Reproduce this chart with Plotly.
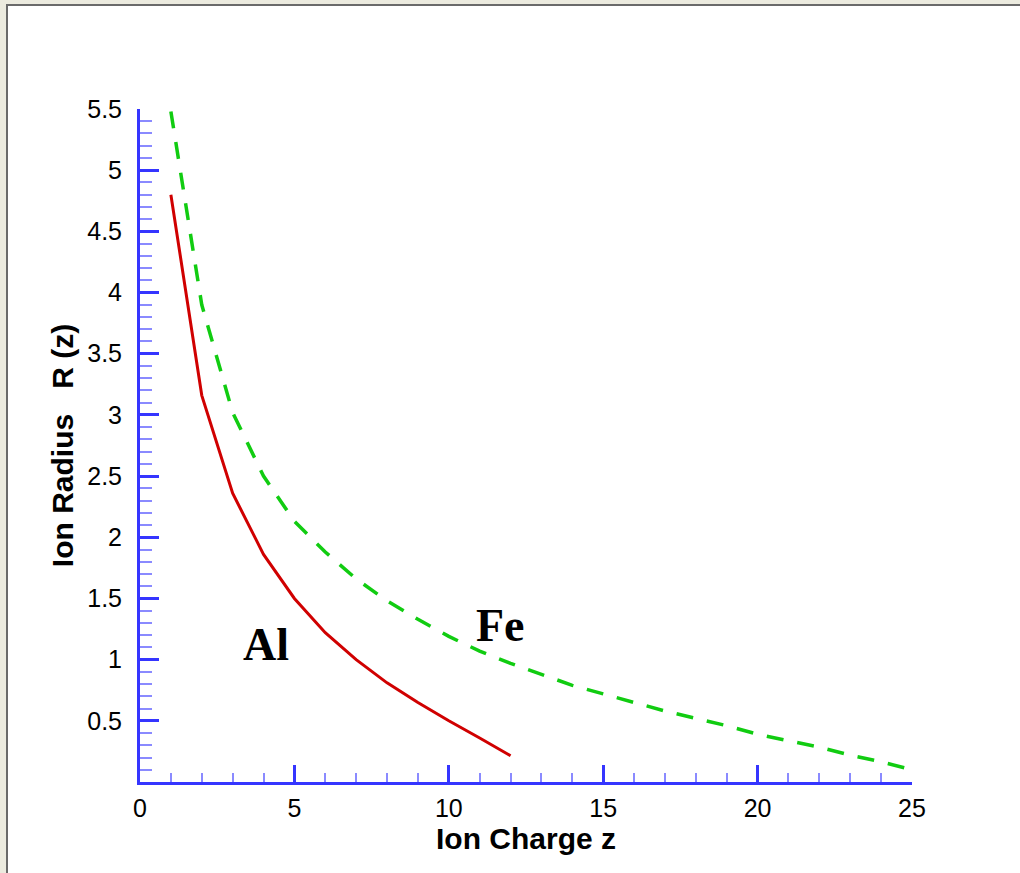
import plotly.graph_objects as go

# Data
al_z = [1, 2, 3, 4, 5, 6, 7, 8, 9, 10, 11, 12]
al_r = [4.80, 3.16, 2.36, 1.86, 1.50, 1.22, 1.00, 0.81, 0.65, 0.50, 0.36, 0.215]

fe_z = list(range(1, 26))
fe_r = [5.48, 3.90, 3.02, 2.50, 2.13, 1.88, 1.66, 1.48, 1.33, 1.19, 1.07, 0.97,
        0.88, 0.79, 0.72, 0.65, 0.58, 0.52, 0.46, 0.39, 0.34, 0.285, 0.22, 0.165, 0.10]

x_ticks = [0, 5, 10, 15, 20, 25]
y_ticks = [0.5, 1, 1.5, 2, 2.5, 3, 3.5, 4, 4.5, 5, 5.5]
y_tick_text = ["0.5", "1", "1.5", "2", "2.5", "3", "3.5", "4", "4.5", "5", "5.5"]

labels = [("Al", 4.08, 1.12), ("Fe", 11.66, 1.28)]

fig = go.Figure()
fig.add_trace(go.Scatter(x=al_z, y=al_r, mode="lines",
                         line=dict(color="#d00000", width=3), showlegend=False))
fig.add_trace(go.Scatter(x=fe_z, y=fe_r, mode="lines",
                         line=dict(color="#11cc11", width=3.5, dash="17px,14px"),
                         showlegend=False))

for t, x, y in labels:
    fig.add_annotation(x=x, y=y, text=f"<b>{t}</b>", showarrow=False,
                       font=dict(family="Liberation Serif, Times New Roman, serif",
                                 size=46, color="black"))

L, R, T, B = 140, 108, 109, 91
W, H = 1020, 873
pw, ph = W - L - R, H - T - B

def px_x(px):
    return (px - L) / pw

def px_y(py):
    return (H - B - py) / ph

fig.add_shape(type="rect", xref="paper", yref="paper",
              x0=px_x(7), x1=px_x(1030), y0=px_y(880), y1=px_y(5),
              fillcolor="white", line=dict(color="#6a6a6a", width=2), layer="below")

blue = "#3535ff"
light = "#8a8aff"
axis_font = dict(family="Liberation Sans, Arial, sans-serif", size=25, color="black")
title_font = dict(family="Liberation Sans, Arial, sans-serif", size=30, color="black")

fig.update_layout(
    width=W, height=H,
    margin=dict(l=L, r=R, t=T, b=B),
    paper_bgcolor="#ecebdf",
    plot_bgcolor="white",
    xaxis=dict(range=[0, 25], tickvals=x_ticks, showgrid=False, zeroline=False,
               showline=True, linecolor=blue, linewidth=3,
               ticks="inside", ticklen=17, tickwidth=3, tickcolor=blue,
               tickfont=axis_font, ticklabelstandoff=2,
               minor=dict(dtick=1, ticks="inside", ticklen=9, tickwidth=2, tickcolor=light, showgrid=False),
               title=dict(text="<b>Ion Charge z</b>", standoff=2, font=title_font)),
    yaxis=dict(range=[0, 5.5], tickvals=y_ticks, ticktext=y_tick_text, showgrid=False, zeroline=False,
               showline=True, linecolor=blue, linewidth=3,
               ticks="inside", ticklen=19, tickwidth=3, tickcolor=blue,
               tickfont=axis_font, ticklabelstandoff=10,
               minor=dict(dtick=0.1, ticks="inside", ticklen=12, tickwidth=2, tickcolor=light, showgrid=False),
               title=dict(text="<b>Ion Radius&nbsp;&nbsp;&nbsp;R (z)</b>", standoff=5, font=title_font)),
)

fig.write_html("out.html", config={"displayModeBar": False},
               post_script="document.body.style.margin='0';document.body.style.background='#ecebdf';")
